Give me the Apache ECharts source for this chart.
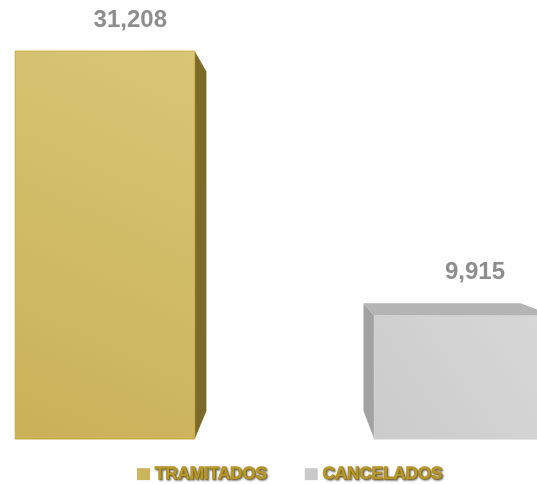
<!DOCTYPE html>
<html>
<head>
<meta charset="utf-8">
<script src="https://cdn.jsdelivr.net/npm/echarts@6/dist/echarts.min.js"></script>
<style>
html,body{margin:0;padding:0;background:#fff;}
#chart{width:537px;height:484px;}
</style>
</head>
<body>
<div id="chart"></div>
<script>
// ---- data ----
const categories = ['TRAMITADOS', 'CANCELADOS'];
const values = [31208, 9915];

// ---- styles ----
const faceColors = [
  { front: ['#c9b158', '#d8c676'], side: '#7c6a2b', top: '#b59c3c', edge: '#c7a73c' },
  { front: ['#cbcbcb', '#d8d8d8'], side: '#a2a2a2', top: '#b4b4b4', edge: '#cfcfcf' }
];
const legendColors = ['#cdb55e', '#c9c9c9'];
const VP = [288, 215];   // perspective vanishing point (px)
const DEPTH = 0.875;     // back-face scale toward VP
const BAR_FRAC = 0.5;

function proj(p) {
  return [VP[0] + DEPTH * (p[0] - VP[0]), VP[1] + DEPTH * (p[1] - VP[1])];
}

function renderBar(params, api) {
  const idx = api.value(0);
  const v = api.value(1);
  const base = api.coord([idx, 0]);
  const top = api.coord([idx, v]);
  const step = Math.abs(api.coord([1, 0])[0] - api.coord([0, 0])[0]);
  const w = step * BAR_FRAC;
  const fl = base[0] - w / 2, fr = base[0] + w / 2, ft = top[1], fb = base[1];
  const bTL = proj([fl, ft]), bTR = proj([fr, ft]), bBL = proj([fl, fb]), bBR = proj([fr, fb]);
  const c = faceColors[idx];
  const children = [];
  if (bTR[0] > fr) {
    children.push({ type: 'polygon', shape: { points: [[fr, ft], bTR, bBR, [fr, fb]] },
      style: { fill: c.side } });
  }
  if (bTL[0] < fl) {
    children.push({ type: 'polygon', shape: { points: [[fl, ft], bTL, bBL, [fl, fb]] },
      style: { fill: c.side } });
  }
  if (bTL[1] < ft) {
    children.push({ type: 'polygon', shape: { points: [[fl, ft], bTL, bTR, [fr, ft]] },
      style: { fill: c.top } });
  }
  children.push({ type: 'rect', shape: { x: fl, y: ft, width: w, height: fb - ft },
    style: {
      fill: new echarts.graphic.LinearGradient(0, 1, 1, 0, [
        { offset: 0, color: c.front[0] }, { offset: 1, color: c.front[1] }
      ]),
      stroke: c.edge, lineWidth: 1
    } });
  const labelY = Math.min(ft, bTL[1]) - 31;
  const labelX = base[0] + 18 - 0.04 * (base[0] - VP[0]);
  children.push({ type: 'text', x: labelX, y: labelY,
    style: {
      text: values[idx].toLocaleString('en-US'),
      fill: '#8d8d8d', font: 'bold 24px "Liberation Sans", Arial, sans-serif',
      align: 'center', verticalAlign: 'middle',
      shadowColor: 'rgba(0,0,0,0.25)', shadowBlur: 2, shadowOffsetX: 1, shadowOffsetY: 1
    } });
  return { type: 'group', children };
}

const chart = echarts.init(document.getElementById('chart'), null, { renderer: 'canvas' });
chart.setOption({
  animation: false,
  grid: { left: 105, right: 73, top: 4, bottom: 45 },
  xAxis: { type: 'category', data: categories, boundaryGap: false, show: false },
  yAxis: { type: 'value', min: 0, max: 35000, show: false },
  legend: {
    left: 132, top: 460, itemWidth: 13, itemHeight: 12, itemGap: 37, icon: 'rect',
    data: categories,
    textStyle: {
      color: '#b8982a', fontWeight: 'bold', fontSize: 17,
      fontFamily: '"Liberation Sans", Arial, sans-serif',
      textBorderColor: '#b8982a', textBorderWidth: 1.3,
      textShadowColor: 'rgba(0,0,0,0.45)', textShadowBlur: 2,
      textShadowOffsetX: 1, textShadowOffsetY: 1
    }
  },
  series: categories.map((name, i) => ({
    name: name,
    type: 'custom',
    renderItem: renderBar,
    itemStyle: { color: legendColors[i] },
    encode: { x: 0, y: 1 },
    data: [[i, values[i]]]
  }))
});
</script>
</body>
</html>
